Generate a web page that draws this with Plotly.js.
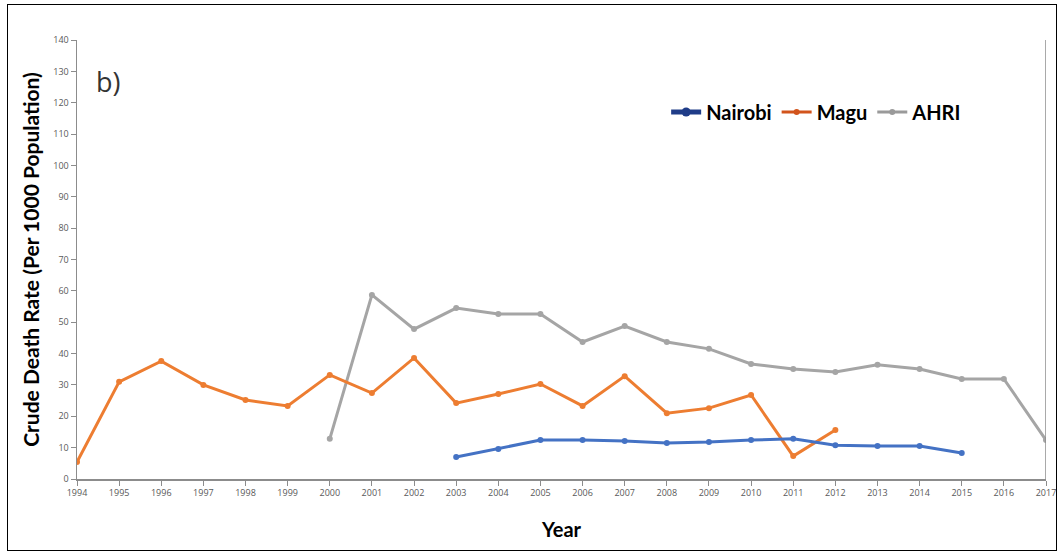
<!DOCTYPE html>
<html><head><meta charset="utf-8">
<script src="https://cdn.plot.ly/plotly-3.0.1.min.js"></script>
<style>
html,body{margin:0;padding:0;background:#fff;}
#frame{position:absolute;left:7px;top:4px;width:1050px;height:547px;border:1.5px solid #000;box-sizing:border-box;pointer-events:none;z-index:10;}
#chart{position:absolute;left:0;top:0;width:1060px;height:554px;}
</style></head>
<body>
<div id="chart"></div>
<div id="frame"></div>
<script>
const years = [1994,1995,1996,1997,1998,1999,2000,2001,2002,2003,2004,2005,2006,2007,2008,2009,2010,2011,2012,2013,2014,2015,2016,2017];
const maguYears = [1994,1995,1996,1997,1998,1999,2000,2001,2002,2003,2004,2005,2006,2007,2008,2009,2010,2011,2012];
const maguValues = [5.4,31,37.6,30,25.2,23.3,33.2,27.4,38.6,24.2,27.1,30.3,23.3,32.8,21,22.6,26.8,7.3,15.6];
const ahriYears = [2000,2001,2002,2003,2004,2005,2006,2007,2008,2009,2010,2011,2012,2013,2014,2015,2016,2017];
const ahriValues = [12.8,58.7,47.8,54.5,52.6,52.6,43.7,48.8,43.7,41.5,36.7,35.1,34.1,36.4,35.1,31.9,31.9,12.4];
const nairobiYears = [2003,2004,2005,2006,2007,2008,2009,2010,2011,2012,2013,2014,2015];
const nairobiValues = [7,9.6,12.4,12.4,12.1,11.5,11.8,12.4,12.8,10.8,10.5,10.5,8.3];
const yTicks = [0,10,20,30,40,50,60,70,80,90,100,110,120,130,140];

const cBlue = '#4472C4', cOrange = '#ED7D31', cGray = '#A5A5A5';

const traces = [
  {x: ahriYears, y: ahriValues, mode:'lines+markers', line:{color:cGray,width:3}, marker:{color:cGray,size:6}, showlegend:false},
  {x: maguYears, y: maguValues, mode:'lines+markers', line:{color:cOrange,width:3}, marker:{color:cOrange,size:6}, showlegend:false},
  {x: nairobiYears, y: nairobiValues, mode:'lines+markers', line:{color:cBlue,width:3}, marker:{color:cBlue,size:6}, showlegend:false},
  {x:[null], y:[null], name:'Nairobi', mode:'lines+markers', line:{color:'#1F3C88',width:5}, marker:{color:'#1F3C88',size:9}},
  {x:[null], y:[null], name:'Magu', mode:'lines+markers', line:{color:'#D2541C',width:3}, marker:{color:'#D2541C',size:6}},
  {x:[null], y:[null], name:'AHRI', mode:'lines+markers', line:{color:'#9A9A9A',width:3}, marker:{color:'#9A9A9A',size:6}}
];

const layout = {
  width:1060, height:554,
  margin:{l:77, r:14, t:40, b:75},
  paper_bgcolor:'#fff', plot_bgcolor:'#fff',
  font:{family:'Lato, "Liberation Sans", sans-serif', color:'#000'},
  showlegend:true,
  legend:{orientation:'h', x:0.608, y:0.836, xanchor:'left', yanchor:'middle',
          font:{size:20, family:'Lato, sans-serif', weight:'bold', color:'#000'},
          bgcolor:'rgba(0,0,0,0)', itemwidth:30, tracegroupgap:0},
  xaxis:{range:[1994,2017], tickvals:years, ticktext:years.map(String),
         showgrid:false, zeroline:false, showline:true, linecolor:'#8c8c8c', linewidth:1.5,
         ticks:'outside', ticklen:5, tickcolor:'#8c8c8c',
         tickfont:{size:9, color:'#595959', family:'"Open Sans", sans-serif'},
         title:{text:'Year', font:{size:20, weight:'bold', family:'Lato, sans-serif', color:'#000'}, standoff:24}},
  yaxis:{range:[0,140], tickvals:yTicks, showgrid:false, zeroline:false,
         showline:true, linecolor:'#8c8c8c', linewidth:1.5,
         ticks:'outside', ticklen:5, tickcolor:'#8c8c8c',
         tickfont:{size:9, color:'#595959', family:'"Open Sans", sans-serif'},
         title:{text:'Crude Death Rate (Per 1000 Population)', font:{size:21, weight:'bold', family:'Lato, sans-serif', color:'#000'}, standoff:8}},
  shapes:[{type:'line', xref:'x', yref:'paper', x0:2017, x1:2017, y0:0, y1:1, line:{color:'#8c8c8c', width:1.5}}],
  annotations:[{text:'b)', xref:'paper', yref:'paper', x:0.018, y:0.905, xanchor:'left', yanchor:'middle', showarrow:false,
                font:{size:27, color:'#333', family:'"Open Sans", sans-serif'}}]
};

Plotly.newPlot('chart', traces, layout, {displayModeBar:false, staticPlot:true});
</script>
</body></html>
